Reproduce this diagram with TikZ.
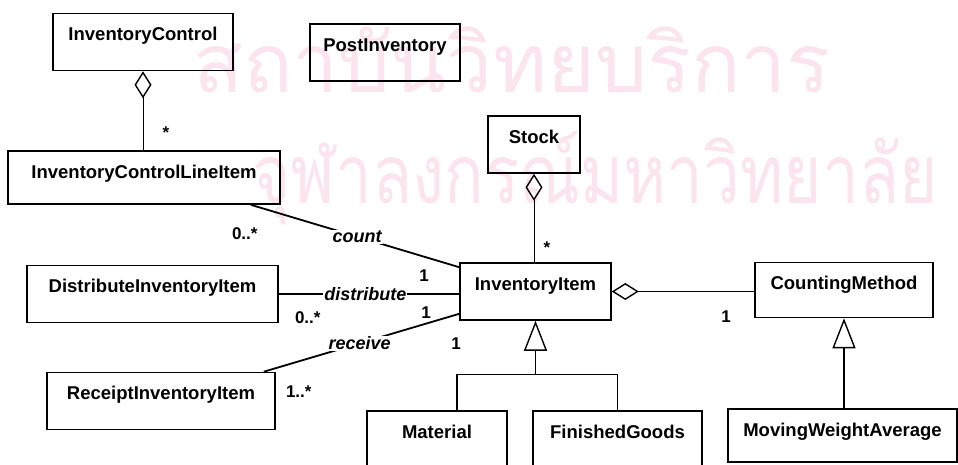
\documentclass[tikz,border=0pt]{standalone}
\usepackage{fontspec}
\setmainfont{Liberation Sans}
\newfontfamily\thaifont[Script=Thai]{Loma}
\usetikzlibrary{arrows.meta,calc,positioning}

\definecolor{wmark}{RGB}{251,228,237}

\tikzset{
  class/.style={draw,line width=1.6pt,inner sep=0pt,font=\bfseries\fontsize{18.5}{20}\selectfont,
    text height=27pt,text depth=30pt},
  assoc/.style={line width=1.8pt},
  aggr/.style={line width=1pt,{Diamond[open,length=27pt,width=17pt,line width=1.4pt]}-},
  gen/.style={line width=1.2pt,-{Triangle[open,length=30pt,width=23pt,line width=1.4pt]}},
  mult/.style={font=\bfseries\fontsize{17}{18}\selectfont,anchor=base,inner sep=0pt},
  role/.style={font=\bfseries\itshape\fontsize{18}{20}\selectfont,fill=white,inner sep=1pt}
}

\begin{document}
\begin{tikzpicture}[x=1pt,y=-1pt]
  \useasboundingbox (0,0) rectangle (958,464);

  % Watermark
  \node[text=wmark,font=\thaifont\fontsize{82}{84}\selectfont] (wm1) at (512,60) {สถาบันวิทยบริการ};
  \node[text=wmark,font=\thaifont\fontsize{82}{84}\selectfont] (wm2) at (595,178)
    {\scalebox{0.8}[1]{จุฬาลงกรณ์มหาวิทยาลัย}};

  % Classes
  \node[class,minimum width=180pt] (ic) at (143,42) {InventoryControl};
  \node[class,minimum width=150pt] (post) at (385,52.5) {PostInventory};
  \node[class,minimum width=272pt,text depth=26pt] (icli) at (144,177.5) {InventoryControlLineItem};
  \node[class,minimum width=92pt] (stock) at (534,144.5) {Stock};
  \node[class,minimum width=151pt] (invitem) at (535.5,291.5) {InventoryItem};
  \node[class,minimum width=251pt] (dist) at (152.5,294) {DistributeInventoryItem};
  \node[class,minimum width=228pt] (receipt) at (161,401) {ReceiptInventoryItem};
  \node[class,minimum width=178pt,text depth=28pt] (cm) at (844,290) {CountingMethod};
  \node[class,minimum width=140pt] (material) at (437,439.5) {Material};
  \node[class,minimum width=169pt] (finished) at (617.5,439.5) {FinishedGoods};
  \node[class,minimum width=229pt,text depth=26pt] (mwa) at (842.5,435.5) {MovingWeightAverage};

  % Aggregations
  \draw[aggr] (ic.south) -- (ic.south |- icli.north);
  \node[mult] (icmany) at ($(ic.south)+(23,67)$) {*};
  \draw[aggr] (stock.south) -- (stock.south |- invitem.north);
  \node[mult] (stockmany) at ($(stock.south)+(13,80)$) {*};
  \draw[aggr] (invitem.east) -- (invitem.east -| cm.west);
  \node[mult] (cmone) at ($(cm.south west)+(-28,4)$) {1};

  % Associations
  \draw[assoc] ($(icli.south east)+(-30,0)$) -- ($(invitem.north west)+(0,5)$)
    node[role,pos=0.51] (count) {count};
  \node[mult] (countmany) at ($(icli.south east)+(-36,35)$) {0..*};
  \node[mult] (countone) at ($(invitem.north west)+(-35,19)$) {1};

  \draw[assoc] (dist.east) -- (dist.east -| invitem.west)
    node[role,pos=0.48] (distribute) {distribute};
  \node[mult] (distmany) at ($(dist.south east)+(29,0)$) {0..*};
  \node[mult] (distone) at ($(invitem.south west)+(-33,-2)$) {1};

  \draw[assoc] ($(invitem.south west)+(0,-7)$) -- ($(receipt.north east)+(-12,0)$)
    node[role,pos=0.51] (receive) {receive};
  \node[mult] (recone) at ($(invitem.south west)+(-3,29)$) {1};
  \node[mult] (recmany) at ($(receipt.north east)+(23,26)$) {1..*};

  % Generalizations
  \coordinate (split) at ($(invitem.south)+(0,54)$);
  \draw[gen] (split) -- (invitem.south);
  \draw[line width=1.2pt] ($(material.north)+(20,0)$) |- (split) -| (finished.north);
  \draw[gen] (cm.south |- mwa.north) -- (cm.south);

\end{tikzpicture}
\end{document}
